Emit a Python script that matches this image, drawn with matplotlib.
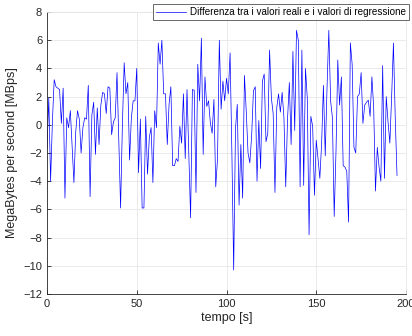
import numpy as np
import matplotlib
matplotlib.use('Agg')
import matplotlib.pyplot as plt

# differenza tra valori reali e valori di regressione, un campione al secondo
diff = [-1.7, 1.9, -4.0, 0.2, 3.2, 2.7, 2.6, 2.5, 0.1, 2.6,
        -5.2, 0.5, -0.2, 1.0, -1.5, -4.1, -0.5, 1.0, 0.4, -2.0,
        -0.2, 0.5, 0.4, 2.8, -5.1, 0.7, 1.6, -2.1, 1.2, -1.4,
        1.4, 2.3, 2.2, 0.8, 2.7, 2.6, -0.7, 0.2, 0.5, 3.7,
        -1.0, -5.9, 0.0, 4.4, 2.2, 3.0, -2.5, 0.5, 1.7, 1.7,
        4.0, -3.4, 0.4, -5.9, -5.9, 0.6, -3.5, -0.9, -0.2, -4.1,
        1.0, -0.2, 5.8, 4.3, 6.0, 2.2, 2.2, -1.4, 1.45, 2.7,
        -2.9, -2.9, -2.4, -2.6, -0.1, -1.3, 2.2, -2.4, 2.5, -2.0,
        -6.6, 2.5, 2.45, -4.8, 4.3, 1.7, 6.15, -2.1, 3.4, 1.3,
        1.7, 0.15, -0.6, 1.8, -4.4, -2.4, 6.0, 1.1, 3.1, 1.7,
        3.3, 2.2, 5.1, -2.0, -10.3, -0.3, 1.45, -5.7, -1.4, -5.2,
        3.5, 0.95, -2.0, -2.7, -0.8, 2.4, 2.7, -4.0, 0.3, -3.1,
        3.1, 3.6, -1.2, -0.6, 5.3, 1.9, 0.8, -4.8, 1.2, 2.2,
        0.9, 2.3, 0.5, -4.4, 0.4, 3.0, -1.4, 5.2, -0.4, 6.7,
        6.0, -4.4, 5.3, -4.3, 4.0, 1.9, -7.8, 0.6, -0.1, -5.0,
        -1.1, -2.4, -3.8, -1.3, 2.8, -2.2, 2.6, 6.7, 1.7, 0.5,
        -6.5, -1.9, 4.6, 1.4, 3.4, -2.9, -3.0, -3.3, -6.9, 5.8,
        4.3, -1.6, -2.0, 2.0, 2.2, 3.7, 0.1, 1.4, 1.6, 1.75,
        0.6, 3.4, 1.2, -4.7, -1.6, -3.0, -4.0, 4.2, -3.8, 2.0,
        0.2, -1.3, 2.0, 5.8, 0.5, -3.6]
tempo = np.arange(len(diff))

x_ticks = [0, 50, 100, 150, 200]
y_ticks = [-12, -10, -8, -6, -4, -2, 0, 2, 4, 6, 8]

plt.rcParams['font.family'] = ['Liberation Sans', 'DejaVu Sans']

fig = plt.figure(figsize=(4.12, 3.36), dpi=100)
ax = fig.add_axes([47 / 412, 42 / 336, 359 / 412, 282 / 336])

line, = ax.plot(tempo, diff, color='#0000ff', lw=0.5,
                label='Differenza tra i valori reali e i valori di regressione')

ax.set_xlim(0, 200)
ax.set_ylim(-12, 8)
ax.set_xticks(x_ticks)
ax.set_yticks(y_ticks)
ax.grid(True, color='#e6e6e6', lw=0.6)
ax.set_axisbelow(True)
ax.tick_params(direction='in', length=3, width=0.6, colors='#262626',
               labelsize=8, top=False, right=False)
for s in ax.spines.values():
    s.set_color('#262626')
    s.set_linewidth(0.6)
ax.spines['top'].set_color('#e6e6e6')
ax.spines['right'].set_color('#e6e6e6')

ax.set_xlabel('tempo [s]', fontsize=9, color='#262626', labelpad=2)
ax.set_ylabel('MegaBytes per second [MBps]', fontsize=9, color='#262626', labelpad=4)

leg = fig.legend(handles=[line], loc='upper right',
                 bbox_to_anchor=(409 / 412, 1 - 4 / 336), fontsize=7.1,
                 frameon=True, fancybox=False, borderpad=0.3,
                 handlelength=3.1, handletextpad=0.4, borderaxespad=0)
leg.get_frame().set_edgecolor('#262626')
leg.get_frame().set_linewidth(0.6)

fig.savefig('out.png', dpi=100)
